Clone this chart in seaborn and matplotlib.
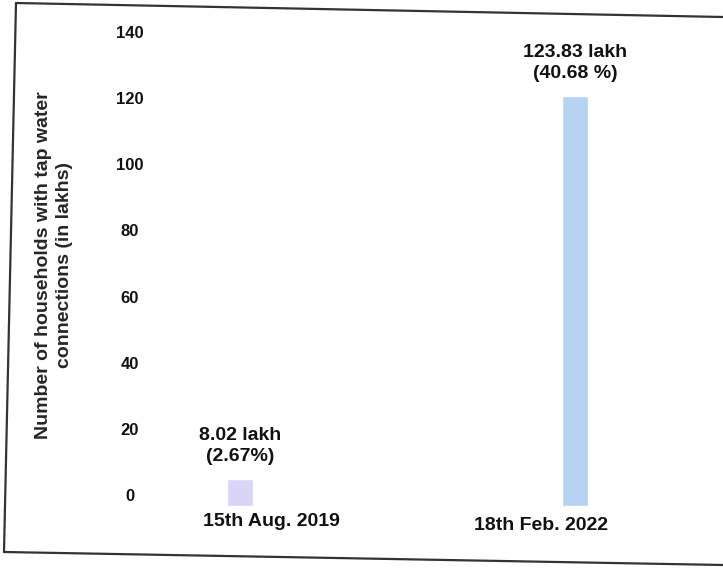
import matplotlib
matplotlib.use("Agg")
import matplotlib.pyplot as plt
import matplotlib.transforms as mtransforms
from matplotlib.lines import Line2D
import pandas as pd
import seaborn as sns

# Households with tap water connections, two reporting dates
dates = ["15th Aug. 2019", "18th Feb. 2022"]
households_lakh = [8.02, 123.83]
coverage = ["2.67%", "40.68 %"]
y_ticks = [0, 20, 40, 60, 80, 100, 120, 140]
bar_colors = ["#d9d5f7", "#b6d3f3"]

sns.set_theme(style="white")
plt.rcParams["font.family"] = ["Liberation Sans", "DejaVu Sans"]
plt.rcParams["font.weight"] = "bold"
plt.rcParams["axes.labelweight"] = "bold"
plt.rcParams["text.color"] = "#111111"

W, H = 723, 573
fig = plt.figure(figsize=(W / 100, H / 100), dpi=100)
fig.patch.set_facecolor("white")

# plot area in pixel terms: left 150, right 710, top 43, bottom 506
ax = fig.add_axes([150 / W, (H - 506) / H, 560 / W, (506 - 43) / H])

df = pd.DataFrame({"date": dates, "households": households_lakh})
sns.barplot(data=df, x="date", y="households", hue="date",
            palette=bar_colors, width=0.077, saturation=1,
            legend=False, ax=ax)

ax.set_ylim(0, 140)
ax.set_yticks(y_ticks)
ax.set_xlim(-0.269, 1.403)
ax.set_xlabel("")
sns.despine(ax=ax, left=True, bottom=True, top=True, right=True)
ax.grid(False)

ax.tick_params(axis="y", length=0, pad=14.4, labelsize=12, colors="#111111")
ax.tick_params(axis="x", length=0, pad=4, labelsize=14, colors="#111111")

# y tick labels sit centred in their column, a little above the bar baseline
lift = mtransforms.ScaledTranslation(0, 0.11, fig.dpi_scale_trans)
for tick in ax.yaxis.get_major_ticks():
    lab = tick.label1
    lab.set_horizontalalignment("center")
    lab.set_fontweight("bold")
    lab.set_transform(lab.get_transform() + lift)

# date labels are nudged sideways from their bars
for tick, (dx, dy) in zip(ax.xaxis.get_major_ticks(), [(31, -1), (-34, -5)]):
    lab = tick.label1
    lab.set_fontweight("bold")
    shift = mtransforms.ScaledTranslation(dx / 100, dy / 100, fig.dpi_scale_trans)
    lab.set_transform(lab.get_transform() + shift)

# value labels above the bars
for i, (v, pct) in enumerate(zip(households_lakh, coverage)):
    ax.annotate(f"{v:.2f} lakh\n({pct})", xy=(i, v), xytext=(0, 14),
                textcoords="offset pixels", ha="center", va="bottom",
                fontsize=14, fontweight="bold", linespacing=1.35)

ax.set_ylabel("Number of households with tap water\nconnections (in lakhs)",
              fontsize=14, fontweight="bold", linespacing=1.25)
ax.yaxis.set_label_coords((54 - 150) / 560, (506 - 265) / 463)
ax.yaxis.label.set_verticalalignment("center")

# slightly tilted frame around the chart
def fx(px):
    return px / W

def fy(py):
    return 1 - py / H

frame = [((16, 3), (723, 17)), ((4, 552), (723, 565)), ((16, 3), (4, 552))]
for (x0, y0), (x1, y1) in frame:
    fig.add_artist(Line2D([fx(x0), fx(x1)], [fy(y0), fy(y1)],
                          transform=fig.transFigure, color="#333333", lw=1.6))

fig.savefig("out.png", dpi=100, facecolor="white")
